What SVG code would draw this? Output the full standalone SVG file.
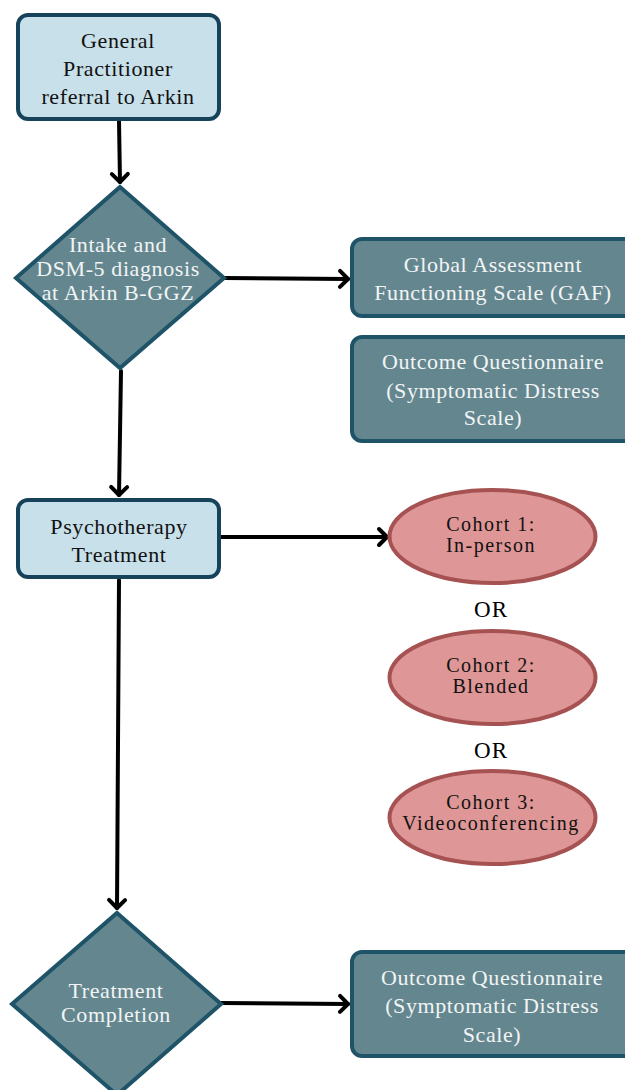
<svg xmlns="http://www.w3.org/2000/svg" width="625" height="1090" viewBox="0 0 625 1090">
<style>
.light{fill:#c8e0ea;stroke:#17435a;stroke-width:4}
.teal{fill:#64878f;stroke:#1f5468;stroke-width:4}
.oval{fill:#de9696;stroke:#a65252;stroke-width:4}
text{font-family:"Liberation Serif","Times New Roman",serif;font-size:22px;letter-spacing:0.6px;text-anchor:middle}
.dk{fill:#111}
.wt{fill:#f2f4f5}
.co{font-size:20px;letter-spacing:1.5px}
.or{font-size:23px;letter-spacing:1px;fill:#000}
.conn{stroke:#000;stroke-width:4;fill:none;stroke-linecap:round}
</style>
<defs>
<marker id="arr" viewBox="-12 -12 24 24" markerWidth="24" markerHeight="24" refX="0" refY="0" markerUnits="userSpaceOnUse" orient="auto">
<path d="M-8,-8 L0,0 L-8,8" fill="none" stroke="#000" stroke-width="4" stroke-linecap="round" stroke-linejoin="round"/>
</marker>
</defs>
<g id="connectors">
<path class="conn" d="M119,121 L120,182" marker-end="url(#arr)"/>
<path class="conn" d="M224,278 L348,279" marker-end="url(#arr)"/>
<path class="conn" d="M121,371 L119,495" marker-end="url(#arr)"/>
<path class="conn" d="M220,537 L387,537" marker-end="url(#arr)"/>
<path class="conn" d="M119,580 L117,908" marker-end="url(#arr)"/>
<path class="conn" d="M220,1003 L348,1004" marker-end="url(#arr)"/>
</g>
<g id="referral">
<rect class="light" x="18" y="15" width="201" height="104" rx="10"/>
<text class="dk" x="118" y="48">General</text>
<text class="dk" x="118" y="76">Practitioner</text>
<text class="dk" x="118" y="104">referral to Arkin</text>
</g>
<g id="intake">
<polygon class="teal" points="120,187 224,278 120,368 16,278"/>
<text class="wt" x="118" y="252">Intake and</text>
<text class="wt" x="118" y="276">DSM-5 diagnosis</text>
<text class="wt" x="118" y="300">at Arkin B-GGZ</text>
</g>
<g id="gaf">
<rect class="teal" x="352" y="239" width="282" height="77" rx="10"/>
<text class="wt" x="493" y="272">Global Assessment</text>
<text class="wt" x="493" y="300">Functioning Scale (GAF)</text>
</g>
<g id="outcome1">
<rect class="teal" x="352" y="337" width="282" height="104" rx="10"/>
<text class="wt" x="493" y="369">Outcome Questionnaire</text>
<text class="wt" x="493" y="398">(Symptomatic Distress</text>
<text class="wt" x="493" y="425">Scale)</text>
</g>
<g id="psychotherapy">
<rect class="light" x="18" y="500" width="201" height="77" rx="10"/>
<text class="dk" x="119" y="534">Psychotherapy</text>
<text class="dk" x="119" y="562">Treatment</text>
</g>
<g id="cohort1">
<ellipse class="oval" cx="492.5" cy="536.5" rx="103" ry="46.5"/>
<text class="dk co" x="491" y="531">Cohort 1:</text>
<text class="dk co" x="491" y="552">In-person</text>
</g>
<text class="or" x="491" y="617">OR</text>
<g id="cohort2">
<ellipse class="oval" cx="492.5" cy="677.5" rx="103" ry="46.5"/>
<text class="dk co" x="491" y="672">Cohort 2:</text>
<text class="dk co" x="491" y="693">Blended</text>
</g>
<text class="or" x="491" y="758">OR</text>
<g id="cohort3">
<ellipse class="oval" cx="492.5" cy="817.5" rx="103" ry="46.5"/>
<text class="dk co" x="491" y="809">Cohort 3:</text>
<text class="dk co" x="491" y="830">Videoconferencing</text>
</g>
<g id="completion">
<polygon class="teal" points="117,913 221,1004 117,1095 12,1004"/>
<text class="wt" x="116" y="998">Treatment</text>
<text class="wt" x="116" y="1022">Completion</text>
</g>
<g id="outcome2">
<rect class="teal" x="352" y="952" width="282" height="104" rx="10"/>
<text class="wt" x="492" y="985">Outcome Questionnaire</text>
<text class="wt" x="492" y="1013">(Symptomatic Distress</text>
<text class="wt" x="492" y="1042">Scale)</text>
</g>
</svg>
